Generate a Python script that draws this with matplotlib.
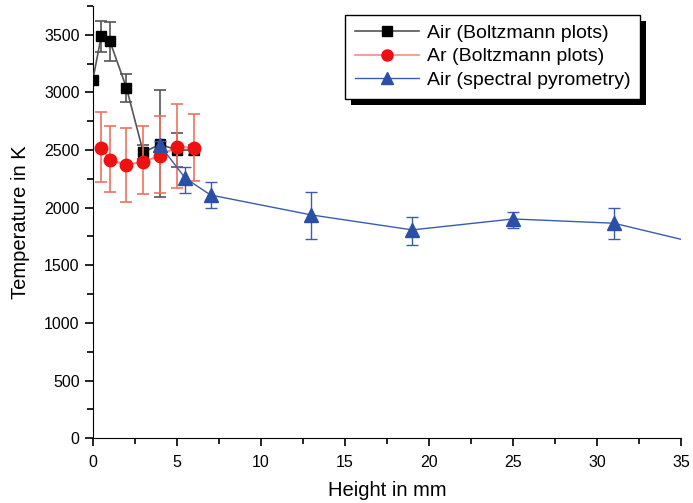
import matplotlib
matplotlib.use('Agg')
import matplotlib.pyplot as plt
from matplotlib.patches import Rectangle
from matplotlib.lines import Line2D
from matplotlib.ticker import MultipleLocator

plt.rcParams['font.family'] = ['Liberation Sans', 'DejaVu Sans']

# Air (Boltzmann plots)
air_x = [0, 0.5, 1, 2, 3, 4, 5, 6]
air_y = [3110, 3490, 3450, 3040, 2480, 2550, 2500, 2500]
air_lo = [0, 140, 180, 120, 60, 460, 150, 40]
air_hi = [0, 130, 165, 120, 60, 470, 150, 40]

# Ar (Boltzmann plots)
ar_x = [0.5, 1, 2, 3, 4, 5, 6]
ar_y = [2520, 2415, 2372, 2398, 2450, 2528, 2520]
ar_lo = [296, 278, 322, 278, 322, 356, 287]
ar_hi = [313, 296, 321, 313, 347, 374, 295]

# Air (spectral pyrometry)
py_x = [4, 5.5, 7, 13, 19, 25, 31, 37]
py_y = [2540, 2256, 2110, 1937, 1807, 1902, 1865, 1655]
py_lo = [40, 126, 115, 207, 132, 78, 135, 0]
py_hi = [40, 99, 117, 203, 115, 59, 131, 0]

labels = ['Air (Boltzmann plots)', 'Ar (Boltzmann plots)', 'Air (spectral pyrometry)']

fig = plt.figure(figsize=(6.93, 5.03), dpi=100)
ax = fig.add_axes([0.134, 0.129, 0.849, 0.859])

ax.errorbar(air_x, air_y, yerr=[air_lo, air_hi], color='#555555', lw=1.2,
            marker='s', ms=7.5, mfc='black', mec='black', ecolor='#555555',
            elinewidth=1.2, capsize=4.5, capthick=1.2, zorder=3)
ax.errorbar(ar_x, ar_y, yerr=[ar_lo, ar_hi], color='#f39080', lw=1.5,
            marker='o', ms=9, mfc='#ee1111', mec='#ee1111', ecolor='#f07060',
            elinewidth=1.2, capsize=4.5, capthick=1.2, zorder=4)
ax.errorbar(py_x, py_y, yerr=[py_lo, py_hi], color='#3a5cb0', lw=1.0,
            marker='^', ms=9.5, mfc='#2b4ea6', mec='#2b4ea6', ecolor='#3a5cb0',
            elinewidth=1.0, capsize=4.5, capthick=1.0, zorder=5)

ax.set_xlim(0, 35)
ax.set_ylim(0, 3750)
ax.xaxis.set_major_locator(MultipleLocator(5))
ax.xaxis.set_minor_locator(MultipleLocator(2.5))
ax.yaxis.set_major_locator(MultipleLocator(500))
ax.yaxis.set_minor_locator(MultipleLocator(250))
ax.spines['top'].set_visible(False)
ax.spines['right'].set_visible(False)
ax.tick_params(which='major', direction='out', length=6, width=1.2, labelsize=11.5)
ax.tick_params(axis='x', which='major', pad=6)
ax.tick_params(which='minor', direction='out', length=4, width=1.2)
ax.set_xlabel('Height in mm', fontsize=14.5, labelpad=8)
ax.set_ylabel('Temperature in K', fontsize=14.5, labelpad=10)

handles = [
    Line2D([], [], color='#555555', lw=1.2, marker='s', ms=7, mfc='black', mec='black'),
    Line2D([], [], color='#f39080', lw=1.2, marker='o', ms=8, mfc='#ee1111', mec='#ee1111'),
    Line2D([], [], color='#3a5cb0', lw=1.0, marker='^', ms=8.5, mfc='#2b4ea6', mec='#2b4ea6'),
]
leg = ax.legend(handles, labels, loc='upper right', bbox_to_anchor=(0.93, 0.98),
                fancybox=False, edgecolor='black', framealpha=1, fontsize=14,
                handlelength=3.3, borderpad=0.5, labelspacing=0.3,
                handletextpad=0.4, borderaxespad=0)
leg.get_frame().set_linewidth(1.0)
leg.set_zorder(10)

# black drop shadow behind the legend box
fig.canvas.draw()
bb = leg.get_window_extent().transformed(ax.transAxes.inverted())
dx = 6 / (ax.bbox.width)
dy = 6 / (ax.bbox.height)
ax.add_patch(Rectangle((bb.x0 + dx, bb.y0 - dy), bb.width, bb.height,
                       transform=ax.transAxes, facecolor='black',
                       edgecolor='none', zorder=9, clip_on=False))

fig.savefig('out.png', dpi=100)
